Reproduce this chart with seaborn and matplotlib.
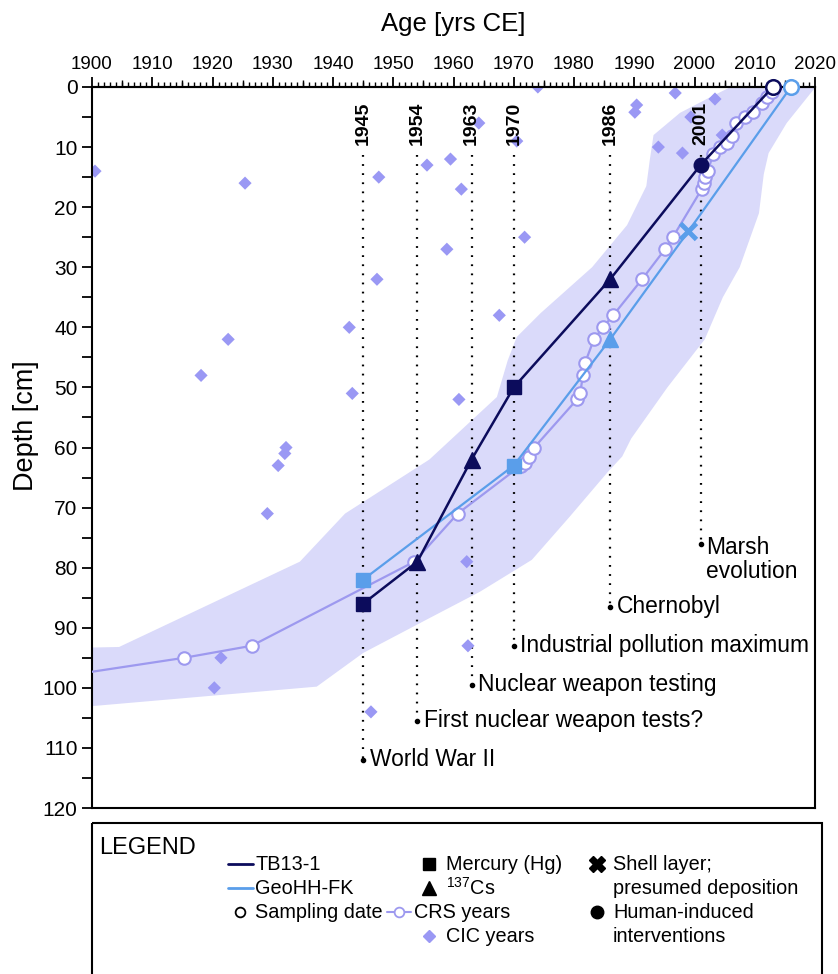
import numpy as np
import matplotlib
matplotlib.use('Agg')
import matplotlib.pyplot as plt
import seaborn as sns
from matplotlib.ticker import MultipleLocator
from matplotlib.patches import Rectangle

# ---------------- data ----------------
# TB13-1 core: Hg, 137Cs, Hg ... human-induced, sampling date
tb_year = [1945, 1954, 1963, 1970, 1986, 2001, 2013]
tb_depth = [86, 79, 62, 50, 32, 13, 0]
tb_kind = ['hg', 'cs', 'cs', 'hg', 'cs', 'human', 'sampling']

# GeoHH-FK core
geo_year = [1945, 1970, 1986, 1999, 2016]
geo_depth = [82, 63, 42, 24, 0]
geo_kind = ['hg', 'hg', 'cs', 'shell', 'sampling']

# CRS model years
crs_year = [1885, 1915.3, 1926.5, 1953.5, 1960.7, 1971.2, 1971.9, 1972.6, 1973.4,
            1980.5, 1981.0, 1981.5, 1981.8, 1983.3, 1984.8, 1986.5, 1991.3, 1995.1,
            1996.4, 2001.2, 2001.5, 2001.8, 2002.2, 2003.1, 2004.3, 2005.4, 2006.2,
            2006.9, 2008.4, 2009.7, 2011.2, 2012.0, 2012.8]
crs_depth = [99.6, 95, 93, 79, 71, 63, 62.5, 61.5, 60,
             52, 51, 48, 46, 42, 40, 38, 32, 27,
             25, 17, 16, 15, 14, 11.2, 10, 9.3, 8.2,
             6, 5, 4.2, 2.7, 1.6, 0.8]

# CRS uncertainty band (old edge / young edge)
band_old_year = [1885, 1904.5, 1934.5, 1942, 1956, 1967.2, 1969, 1970.5, 1974.5,
                 1983, 1988.8, 1992, 1992.6, 1993.2, 1997.6, 2003, 2008]
band_old_depth = [93.6, 93.2, 79, 71, 62, 51.6, 45.5, 41.6, 37.6,
                  30, 23, 16.5, 12, 8, 4.3, 1.5, -1]
band_young_year = [1885, 1900.5, 1937.3, 1945, 1956, 1964.4, 1973, 1979.3, 1985.5,
                   1988, 1989.5, 1995.5, 2001.7, 2004.7, 2007.5, 2010.7, 2011.5,
                   2012.3, 2015.3, 2019.7, 2022]
band_young_depth = [103.4, 103, 99.8, 94.2, 88.4, 84, 78.7, 71.5, 64.2,
                    61.5, 58.5, 50, 42, 35, 30, 21, 14.5, 11, 6, 0.5, -1]

# CIC model years
cic_year = [1900.5, 1925.4, 1947.6, 1955.6, 1959.5, 1961.3, 1964.2, 1970.5, 1974,
            1958.9, 1971.8, 1947.3, 1942.7, 1922.6, 1918.1, 1943.2, 1960.9, 1967.6,
            1932.2, 1932.0, 1930.9, 1929.1, 1962.2, 1962.4, 1921.4, 1920.3, 1946.3,
            1990.4, 1990.1, 1996.8, 2003.4, 1999.4, 2004.6, 1994.0, 1998.0]
cic_depth = [14, 16, 15, 13, 12, 17, 6, 9, 0,
             27, 25, 32, 40, 42, 48, 51, 52, 38,
             60, 61, 63, 71, 79, 93, 95, 100, 104,
             3, 4.2, 1, 2, 5, 8, 10, 11]

# historical events
event_year = [1945, 1954, 1963, 1970, 1986, 2001]
event_end = [112, 105.5, 99.5, 93, 86.5, 76]
event_label = ['World War II', 'First nuclear weapon tests?', 'Nuclear weapon testing',
               'Industrial pollution maximum', 'Chernobyl', 'Marsh\nevolution']

# ---------------- style ----------------
sns.set_theme(style='white')
plt.rcParams['font.family'] = ['Liberation Sans', 'DejaVu Sans']
plt.rcParams['mathtext.fontset'] = 'custom'
plt.rcParams['mathtext.rm'] = 'Liberation Sans'
for k in ['text.color', 'axes.labelcolor', 'xtick.color', 'ytick.color']:
    plt.rcParams[k] = 'black'

NAVY = '#0c0c5c'
LBLUE = '#5a9eea'
LAV = '#9d99ef'
CIC = '#9a98f4'
BAND = '#dadafa'

marker_map = {'hg': 's', 'cs': '^', 'human': 'o', 'sampling': 'o', 'shell': 'X'}

fig = plt.figure(figsize=(8.38, 9.74), dpi=100)
ax = fig.add_axes([92 / 838, 1 - 808 / 974, (815 - 92) / 838, (808 - 87) / 974])

# uncertainty band
ax.fill(np.r_[band_old_year, band_young_year[::-1]],
        np.r_[band_old_depth, band_young_depth[::-1]],
        color=BAND, lw=0, zorder=0)

# CIC years
sns.scatterplot(x=cic_year, y=cic_depth, marker='D', s=45, color=CIC,
                edgecolor='none', ax=ax, zorder=2, legend=False)

# event lines
for yr, end, lab in zip(event_year, event_end, event_label):
    ax.plot([yr, yr], [11.3, end], color='black', lw=1.6,
            linestyle=(0, (0.8, 3.3)), zorder=1)
    ax.plot([yr], [end], 'o', color='black', ms=3, zorder=1)
    ax.text(yr, 9.6, str(yr), rotation=90, ha='center', va='bottom',
            fontsize=14, fontweight='bold', zorder=6)
    if '\n' in lab:
        ax.text(yr + 0.9, end - 1.2, lab, ha='left', va='top', fontsize=16.4,
                linespacing=1.05, zorder=6)
    else:
        ax.text(yr + 1.1, end, lab, ha='left', va='center', fontsize=16.4, zorder=6)

# CRS years
sns.lineplot(x=crs_year, y=crs_depth, sort=False, estimator=None, color=LAV,
             linewidth=1.6, marker='o', markersize=9, markerfacecolor='white',
             markeredgecolor=LAV, markeredgewidth=1.5, ax=ax, zorder=3)

# GeoHH-FK
sns.lineplot(x=geo_year, y=geo_depth, sort=False, estimator=None, color=LBLUE,
             linewidth=1.6, ax=ax, zorder=4)
for x, y, k in zip(geo_year, geo_depth, geo_kind):
    if k == 'sampling':
        ax.plot(x, y, 'o', ms=10.5, mfc='white', mec=LBLUE, mew=1.8, zorder=5, clip_on=False)
    elif k == 'shell':
        ax.plot(x, y, 'x', ms=12, mec=LBLUE, mew=3.5, zorder=5)
    else:
        ax.plot(x, y, marker_map[k], ms=11.5 if k == 'cs' else 10.5, color=LBLUE, zorder=5)

# TB13-1
sns.lineplot(x=tb_year, y=tb_depth, sort=False, estimator=None, color=NAVY,
             linewidth=1.8, ax=ax, zorder=4)
for x, y, k in zip(tb_year, tb_depth, tb_kind):
    if k == 'sampling':
        ax.plot(x, y, 'o', ms=10.5, mfc='white', mec=NAVY, mew=1.8, zorder=5, clip_on=False)
    else:
        ax.plot(x, y, marker_map[k], ms=11.5 if k == 'cs' else 10.5, color=NAVY, zorder=5)

# axes
ax.set_xlim(1900, 2020)
ax.set_ylim(120, 0)
ax.xaxis.tick_top()
ax.xaxis.set_label_position('top')
ax.xaxis.set_major_locator(MultipleLocator(10))
ax.xaxis.set_minor_locator(MultipleLocator(1))
ax.yaxis.set_major_locator(MultipleLocator(10))
ax.yaxis.set_minor_locator(MultipleLocator(5))
ax.tick_params(axis='x', which='major', direction='out', length=7, width=1.3,
               labelsize=13.5, pad=3, top=True, bottom=False)
ax.tick_params(axis='x', which='minor', direction='out', length=3.5, width=1,
               top=True, bottom=False)
ax.tick_params(axis='y', which='both', direction='out', length=7, width=1.3,
               labelsize=15, left=True)
# medium ticks every 5 years
sec = ax.secondary_xaxis('top')
sec.set_xticks(np.arange(1905, 2020, 10))
sec.tick_params(axis='x', direction='out', length=5, width=1, labeltop=False)
sec.spines['top'].set_linewidth(1.5)
for sp in ax.spines.values():
    sp.set_color('black')
    sp.set_linewidth(1.5)
ax.set_xlabel('Age [yrs CE]', fontsize=18.5, labelpad=18)
ax.set_ylabel('Depth [cm]', fontsize=19.5)
ax.yaxis.set_label_coords(-0.073, 0.53)
ax.grid(False)

# ---------------- legend (drawn in figure pixels) ----------------
lax = fig.add_axes([0, 0, 1, 1], zorder=-1)
lax.set_xlim(0, 838)
lax.set_ylim(974, 0)
lax.axis('off')
lax.add_patch(Rectangle((92, 823), 730, 200, fill=False, lw=1.5, ec='black'))
fs = 14.3
lax.text(99, 848, 'LEGEND', fontsize=17, va='center', ha='left')
rows = [864, 888, 912, 936]
# column 1
lax.plot([228, 253], [rows[0]] * 2, color=NAVY, lw=2)
lax.text(255, rows[0], 'TB13-1', fontsize=fs, va='center')
lax.plot([228, 253], [rows[1]] * 2, color=LBLUE, lw=2)
lax.text(255, rows[1], 'GeoHH-FK', fontsize=fs, va='center')
lax.plot(240, rows[2], 'o', ms=7, mfc='white', mec='black', mew=1.3)
lax.text(255, rows[2], 'Sampling date', fontsize=fs, va='center')
# column 2
lax.plot(429, rows[0], 's', ms=9, color='black')
lax.text(446, rows[0], 'Mercury (Hg)', fontsize=fs, va='center')
lax.plot(429, rows[1], '^', ms=10, color='black')
lax.text(446, rows[1], r'$\mathregular{^{137}}$Cs', fontsize=fs, va='center')
lax.plot([387, 411], [rows[2]] * 2, color=LAV, lw=1.5)
lax.plot(399, rows[2], 'o', ms=7, mfc='white', mec=LAV, mew=1.3)
lax.text(414, rows[2], 'CRS years', fontsize=fs, va='center')
lax.plot(429, rows[3], 'D', ms=6, color=CIC)
lax.text(446, rows[3], 'CIC years', fontsize=fs, va='center')
# column 3
lax.plot(597, rows[0], 'X', ms=11, color='black')
lax.text(613, rows[0], 'Shell layer;', fontsize=fs, va='center')
lax.text(613, rows[1], 'presumed deposition', fontsize=fs, va='center')
lax.plot(597, rows[2], 'o', ms=9, color='black')
lax.text(613, rows[2], 'Human-induced', fontsize=fs, va='center')
lax.text(613, rows[3], 'interventions', fontsize=fs, va='center')

fig.savefig('out.png', dpi=100)
